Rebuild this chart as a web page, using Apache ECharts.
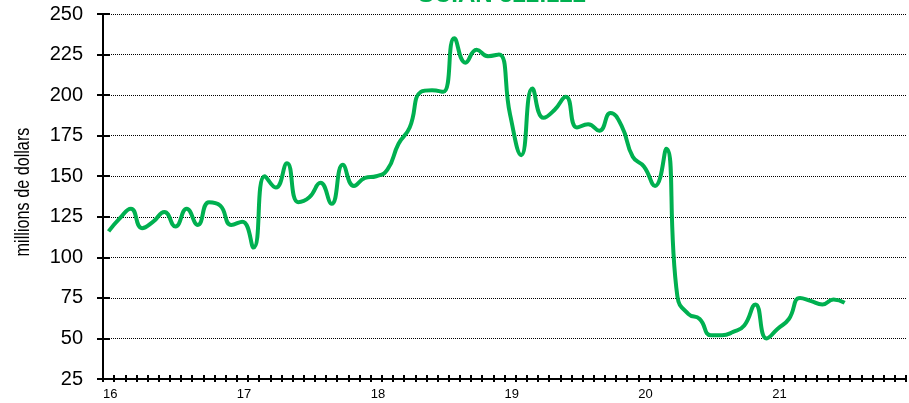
<!DOCTYPE html>
<html>
<head>
<meta charset="utf-8">
<script src="https://cdn.jsdelivr.net/npm/echarts@6/dist/echarts.min.js"></script>
<style>
  html, body { margin: 0; padding: 0; background: #ffffff; }
  #chart { width: 909px; height: 403px; }
</style>
</head>
<body>
<div id="chart"></div>
<script>
// Monthly values, January 2016 onward (millions of dollars)
const yearLabels = ['16', '17', '18', '19', '20', '21'];
const monthlyValues = [
  116, 124, 130, 118, 122, 128, 119, 130, 120, 134, 132, 120,
  122, 106, 150, 143, 158, 134, 137, 146, 133, 157, 144, 149,
  150, 154, 170, 180, 202, 203, 202, 235, 220, 228, 224, 225,
  188, 163, 204, 186, 191, 199, 180, 182, 178, 189, 181, 162,
  156, 144, 167, 76, 65, 62, 52, 52, 54, 58, 71, 50,
  56, 62, 75, 73, 71, 74, 72
];
const yMin = 25, yMax = 250, yStep = 25;
const titleText = 'SCIAN 322.122';
const yAxisTitle = 'millions de dollars';

const monthsShown = yearLabels.length * 12;
// each month sits in the middle of its tick interval
const points = monthlyValues.map((v, i) => [i + 0.5, v]);

const green = '#00b050';
const font = 'Liberation Sans, Arial, sans-serif';

const chart = echarts.init(document.getElementById('chart'), null, { renderer: 'canvas' });
chart.setOption({
  animation: false,
  backgroundColor: '#ffffff',
  title: {
    text: titleText,
    left: 418,
    top: -17,
    padding: 0,
    textStyle: { color: green, fontWeight: 'bold', fontSize: 24, fontFamily: font }
  },
  // condensed, vertical axis title
  graphic: [
    {
      type: 'text',
      x: 23,
      y: 192,
      rotation: Math.PI / 2,
      scaleX: 0.81,
      style: {
        text: yAxisTitle,
        fill: '#000',
        font: '20px ' + font,
        align: 'center',
        verticalAlign: 'middle'
      }
    }
  ],
  grid: { left: 103, right: 3, top: 14, bottom: 24, containLabel: false },
  xAxis: [
    {
      type: 'value', min: 0, max: monthsShown, interval: 1,
      axisLine: { show: true, onZero: false, lineStyle: { color: '#000', width: 2 } },
      axisTick: { show: true, length: 3, lineStyle: { color: '#000', width: 2 } },
      axisLabel: {
        show: true, margin: 9, align: 'left', color: '#000', fontSize: 13, fontFamily: font,
        formatter: function (v) {
          const m = Math.round(v);
          if (m % 12 === 0 && m / 12 < yearLabels.length) return yearLabels[m / 12];
          return '';
        }
      },
      splitLine: { show: false }
    },
    {
      type: 'value', min: 0, max: monthsShown, interval: 1, position: 'bottom',
      axisLine: { show: false, onZero: false },
      axisTick: { show: true, inside: true, length: 4, lineStyle: { color: '#000', width: 2 } },
      axisLabel: { show: false },
      splitLine: { show: false }
    }
  ],
  yAxis: [
    {
      type: 'value', min: yMin, max: yMax, interval: yStep,
      axisLine: { show: true, onZero: false, lineStyle: { color: '#000', width: 2 } },
      axisTick: { show: true, length: 6, lineStyle: { color: '#000', width: 2 } },
      axisLabel: { margin: 20, color: '#000', fontSize: 20, fontFamily: font },
      splitLine: { show: true, lineStyle: { color: '#000', width: 1, type: [1, 1] } }
    },
    {
      type: 'value', min: yMin, max: yMax, interval: yStep, position: 'left',
      axisLine: { show: false, onZero: false },
      axisTick: { show: true, inside: true, length: 7, lineStyle: { color: '#000', width: 2 } },
      axisLabel: { show: false },
      splitLine: { show: false }
    }
  ],
  series: [
    {
      type: 'line',
      data: points,
      smooth: 0.5,
      showSymbol: false,
      lineStyle: { color: green, width: 4 },
      z: 5
    }
  ]
});
</script>
</body>
</html>
